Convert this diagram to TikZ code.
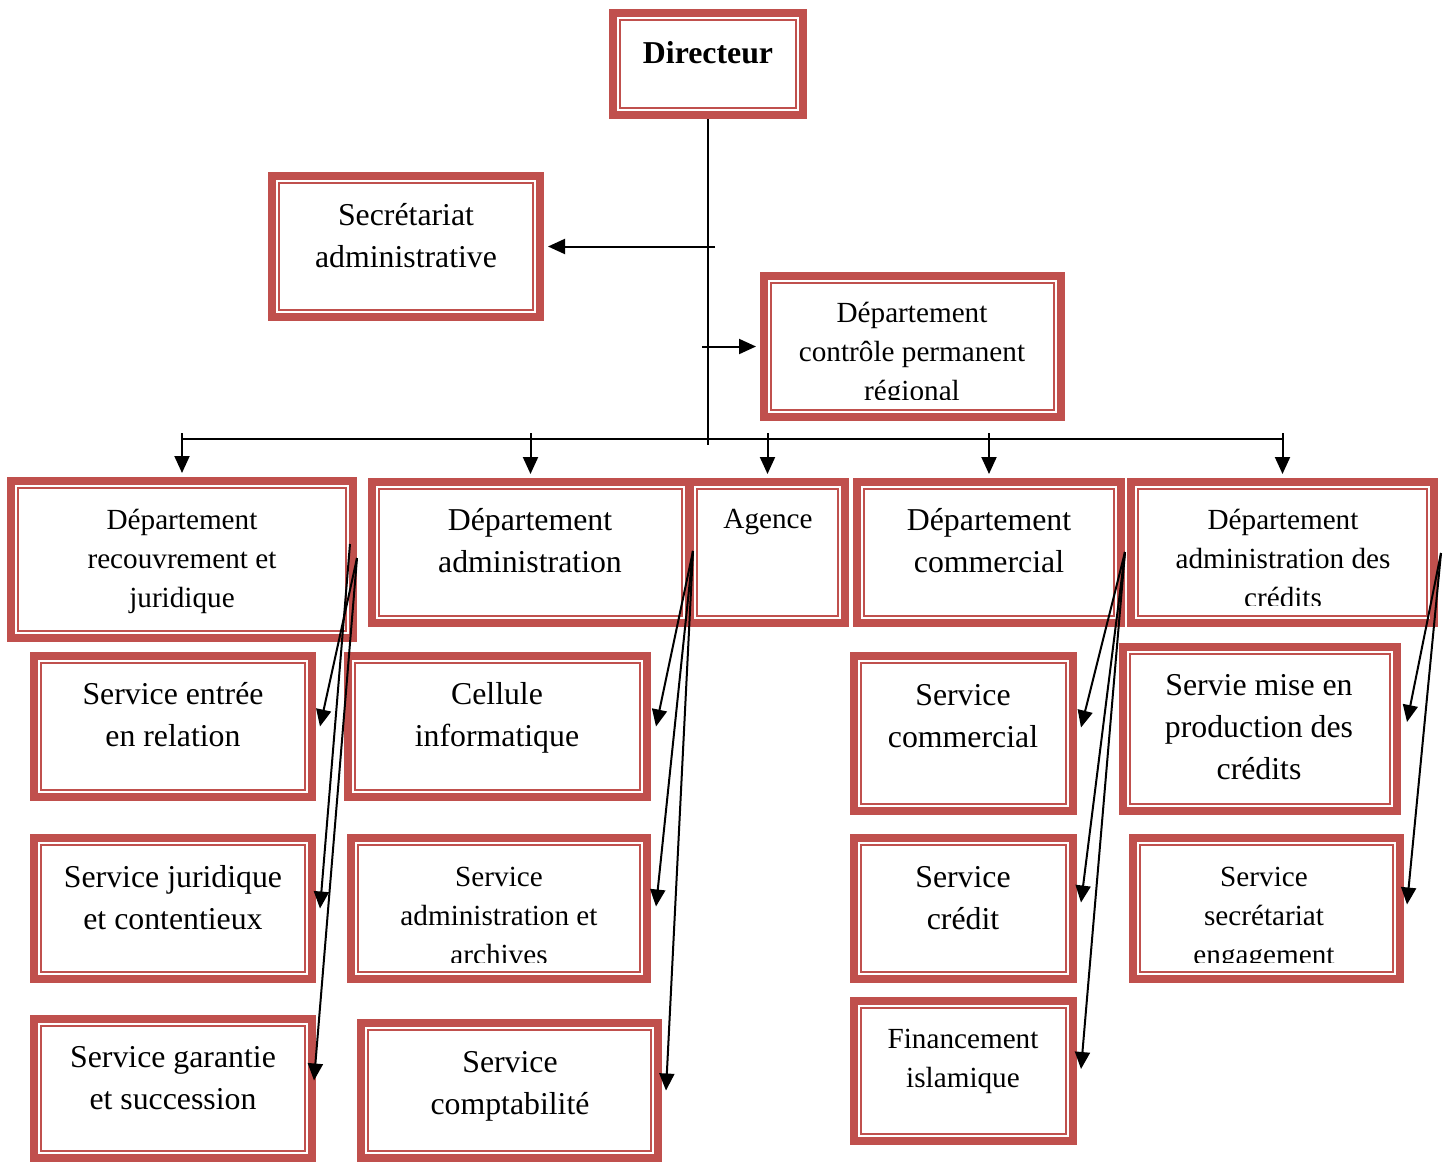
\documentclass[tikz,border=0pt]{standalone}
\usepackage{fontspec}
\setmainfont{Liberation Serif}
\usetikzlibrary{arrows.meta,calc,fit}
\definecolor{boxred}{RGB}{192,80,77}
\tikzstyle{orgbox} = [draw=boxred, line width=4pt, fill=white, inner sep=0pt,
  path picture={\draw[boxred, line width=0.8pt]
    ([shift={(3.5pt,3.5pt)}]path picture bounding box.south west) rectangle
    ([shift={(-3.5pt,-3.5pt)}]path picture bounding box.north east);}]
\tikzstyle{bigtxt} = [font=\fontsize{15.9}{21}\selectfont, align=center, inner sep=0pt, anchor=base]
\tikzstyle{smalltxt} = [font=\fontsize{14.6}{19.5}\selectfont, align=center, inner sep=0pt, anchor=base]
\tikzstyle{arr} = [-{Triangle[length=8.5pt,width=7.5pt]}, line width=1pt]

\begin{document}
\begin{tikzpicture}[x=0.5pt, y=-0.5pt]
  \useasboundingbox (0,0) rectangle (1445,1162);

  \node[orgbox, fit={(613,13) (803,115)}] (dir) {};
  \node[orgbox, fit={(272,176) (540,317)}] (sec) {};
  \node[orgbox, fit={(764,276) (1061,417)}] (ctrl) {};

  \node[orgbox, fit={(11,481) (353,638)}] (rec) {};
  \node[orgbox, fit={(372,482) (689,623)}] (adm) {};
  \node[orgbox, fit={(690,482) (845,623)}] (age) {};
  \node[orgbox, fit={(857,482) (1121,623)}] (com) {};
  \node[orgbox, fit={(1131,482) (1434,623)}] (cred) {};

  \node[orgbox, fit={(34,656) (312,797)}] (entree) {};
  \node[orgbox, fit={(348,656) (647,797)}] (cellule) {};
  \node[orgbox, fit={(854,656) (1073,811)}] (scom) {};
  \node[orgbox, fit={(1123,647) (1397,811)}] (prod) {};

  \node[orgbox, fit={(34,838) (312,979)}] (jur) {};
  \node[orgbox, fit={(351,838) (647,979)}] (arch) {};
  \node[orgbox, fit={(854,838) (1073,979)}] (scred) {};
  \node[orgbox, fit={(1133,838) (1400,979)}] (seng) {};

  \node[orgbox, fit={(34,1019) (312,1158)}] (gar) {};
  \node[orgbox, fit={(361,1023) (658,1158)}] (compt) {};
  \node[orgbox, fit={(854,1001) (1073,1141)}] (islam) {};

  \node[bigtxt, font=\fontsize{15.9}{21}\selectfont\bfseries] (dirt) at (708,63) {Directeur};
  \node[bigtxt] (sect) at (406,267) {Secrétariat\\administrative};
  \begin{scope}
    \clip (764,276) rectangle (1061,399);
    \node[smalltxt] (ctrlt) at (912,400) {Département\\contrôle permanent\\régional};
  \end{scope}

  \node[smalltxt] (rect) at (182,607) {Département\\recouvrement et\\juridique};
  \node[bigtxt] (admt) at (530,572) {Département\\administration};
  \node[smalltxt] (aget) at (768,528) {Agence};
  \node[bigtxt] (comt) at (989,572) {Département\\commercial};
  \begin{scope}
    \clip (1131,482) rectangle (1434,605);
    \node[smalltxt] (credt) at (1283,607) {Département\\administration des\\crédits};
  \end{scope}

  \node[bigtxt] (entreet) at (173,746) {Service entrée\\en relation};
  \node[bigtxt] (cellulet) at (497,746) {Cellule\\informatique};
  \node[bigtxt] (scomt) at (963,747) {Service\\commercial};
  \node[bigtxt] (prodt) at (1259,779) {Servie mise en\\production des\\crédits};

  \node[bigtxt] (jurt) at (173,929) {Service juridique\\et contentieux};
  \begin{scope}
    \clip (351,838) rectangle (647,962);
    \node[smalltxt] (archt) at (499,964) {Service\\administration et\\archives};
  \end{scope}
  \node[bigtxt] (scredt) at (963,929) {Service\\crédit};
  \begin{scope}
    \clip (1133,838) rectangle (1400,962);
    \node[smalltxt] (sengt) at (1264,964) {Service\\secrétariat\\engagement};
  \end{scope}

  \node[bigtxt] (gart) at (173,1109) {Service garantie\\et succession};
  \node[bigtxt] (comptt) at (510,1114) {Service\\comptabilité};
  \node[smalltxt] (islamt) at (963,1087) {Financement\\islamique};

  \coordinate (trunk) at (708,445);
  \coordinate (secfrom) at (715,246.5);
  \coordinate (ctrlfrom) at (702,346.5);
  \coordinate (busL) at (182,439);
  \coordinate (busR) at (1283,439);
  \coordinate (rec1) at (350,544);
  \coordinate (rec2) at (357,558);
  \coordinate (adm1) at (693,551);
  \coordinate (com1) at (1125,552);
  \coordinate (cred1) at (1441,553);

  \draw[line width=1pt] (dir.south) -- (trunk);
  \draw[line width=1pt] (busL) -- (busR);
  \draw[arr, shorten >=2pt] (secfrom) -- (sec.east);
  \draw[arr, shorten >=2pt] (ctrlfrom) -- (ctrl.west);

  \draw[arr, shorten >=2pt] (rec.north |- 0,433) -- (rec.north);
  \draw[arr, shorten >=2pt] (adm.north |- 0,433) -- (adm.north);
  \draw[arr, shorten >=2pt] (age.north |- 0,433) -- (age.north);
  \draw[arr, shorten >=2pt] (com.north |- 0,433) -- (com.north);
  \draw[arr, shorten >=2pt] (cred.north |- 0,433) -- (cred.north);

  \draw[arr] (rec2) -- ([xshift=2pt]entree.east);
  \draw[arr] (rec1) -- ([xshift=2pt]jur.east);
  \draw[arr] (rec2) -- ([xshift=-1pt,yshift=4pt]gar.east);

  \draw[arr] (adm1) -- ([xshift=2.5pt]cellule.east);
  \draw[arr] (adm1) -- ([xshift=2.5pt,yshift=1pt]arch.east);
  \draw[arr] (adm1) -- ([xshift=2pt]compt.east);

  \draw[arr] (com1) -- ([xshift=2pt,yshift=3pt]scom.east);
  \draw[arr] (com1) -- ([xshift=2pt,yshift=3pt]scred.east);
  \draw[arr] (com1) -- ([xshift=2pt,yshift=1pt]islam.east);

  \draw[arr] (cred1) -- ([xshift=3pt,yshift=3.5pt]prod.east);
  \draw[arr] (cred1) -- ([xshift=1.5pt,yshift=2pt]seng.east);
\end{tikzpicture}
\end{document}
